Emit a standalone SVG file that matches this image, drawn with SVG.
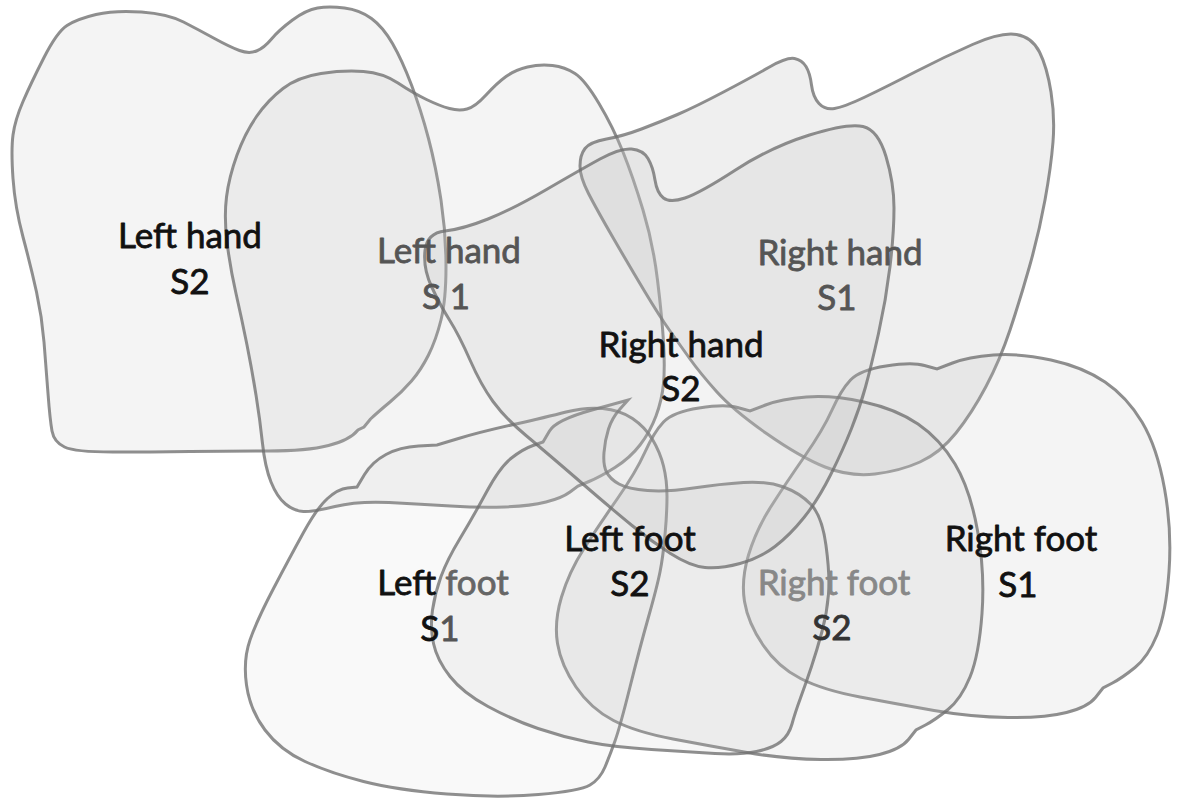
<svg xmlns="http://www.w3.org/2000/svg" width="1182" height="802" viewBox="0 0 1182 802">
<style>
.blob{stroke:#6f6f6f;stroke-opacity:0.78;stroke-width:3;fill:#c4c4c4}
.lbl{font-family:Lato,"Open Sans","Liberation Sans",sans-serif;font-size:35px;text-anchor:middle;stroke-width:0.8;stroke-linejoin:round}
.dark{fill:#111;stroke:#111}
.mid{fill:#555;stroke:#555}
.soft{fill:#666;stroke:#666}
.pale{fill:#888;stroke:#888}
.deep{fill:#333;stroke:#333}
</style>
<rect width="1182" height="802" fill="#ffffff"/>
<g id="left-hand-s2">
<path class="blob" fill-opacity="0.19" d="M44,57.5 Q57,32 67,25.5 Q77,19 96,14.5 Q115,10 141.5,12 Q168,14 183.5,22 Q199,30 214.5,38.5 Q230,47 239.5,50.5 Q249,54 256.5,51 Q264,48 271.5,39 Q279,30 292.5,20 Q306,10 317.5,8 Q329,6 344.5,8 Q360,10 371.5,18.5 Q383,27 392.5,43.5 Q402,60 411.5,85 Q421,110 428.5,138.5 Q436,167 441,200 Q446,233 446,266.5 Q446,300 441,320 Q436,340 428.5,355 Q421,370 411.5,381 Q402,392 390,402 Q378,412 370.5,419 L364,427 L358,430 Q350,440 328.5,445.5 Q307,451 268.5,451 Q230,451 190,451.5 Q150,452 112.5,452 Q75,452 64.5,447 Q54,442 52,431 Q50,420 48,393.5 Q46,367 44,342 Q42,317 36.5,292 Q31,267 23,237 Q15,207 13,178.5 Q11,150 13,135 Q15,120 23,101.5 Q31,83 44,57.5 Z"/>
</g>
<g id="left-hand-s1">
<path class="blob" fill-opacity="0.19" d="M256.5,116.5 Q268,100 283,88.5 Q298,77 321,73.5 Q344,70 363.5,71.5 Q383,73 398,83 Q413,93 426.5,99.5 Q440,106 449.5,108.5 Q459,111 467,109 Q475,107 486,95 Q497,83 506,76.5 Q515,70 527.5,67 Q540,64 552.5,65.5 Q565,67 575,73.5 Q585,80 599,103.5 Q613,127 623,152 Q633,177 643,210 Q653,243 657.5,280 Q662,317 663.5,342 Q665,367 663.5,383.5 Q662,400 656,416 Q650,432 640,445 Q630,458 615,467.5 Q600,477 589,481.5 L578,486 L570,492 Q562,498 546,502 Q530,506 505,507 Q480,508 450.5,506 Q421,504 389,502.5 Q357,501 335,506.5 Q313,512 303.5,511.5 Q294,511 285.5,504 Q277,497 271,482 Q265,467 262.5,443.5 Q260,420 256,395 Q252,370 247,345 Q242,320 236,293.5 Q230,267 227,242 Q224,217 226.5,197 Q229,177 237,155 Q245,133 256.5,116.5 Z"/>
</g>
<g id="right-hand-s1">
<path class="blob" fill-opacity="0.27" d="M585,148.5 Q590,142 606.5,139 Q623,136 641.5,129 Q660,122 677.5,114.5 Q695,107 723.5,92 Q752,77 769.5,67 Q787,57 794.5,58.5 Q802,60 806,66.5 Q810,73 811.5,85 Q813,97 819,103.5 Q825,110 834.5,108.5 Q844,107 865,97 Q886,87 915,72 Q944,57 972.5,44.5 Q1001,32 1016.5,34.5 Q1032,37 1039.5,52 Q1047,67 1051,92 Q1055,117 1053,142 Q1051,167 1045,200 Q1039,233 1029.5,266.5 Q1020,300 1010,330 Q1000,360 986,386.5 Q972,413 956,433 Q940,453 920,462 Q900,471 875,474 Q850,477 825,467 Q800,457 766.5,433.5 Q733,410 716.5,391.5 Q700,373 690,359 Q680,345 670,331 Q660,317 645,292 Q630,267 613.5,238.5 Q597,210 588.5,193.5 Q580,177 580,166 Q580,155 585,148.5 Z"/>
</g>
<g id="right-foot-s1">
<path class="blob" fill-opacity="0.19" d="M993.5,355 Q1019,353 1051,360 Q1083,367 1105,382 Q1127,397 1142,422 Q1157,447 1164.5,488.5 Q1172,530 1169,571.5 Q1166,613 1157,635 Q1148,657 1135,667.5 Q1122,678 1112.5,683 L1103,688 L1095.5,697.5 Q1088,707 1066.5,712.5 Q1045,718 1008,717.5 Q971,717 934,710.5 Q897,704 860,697 Q823,690 800.5,678.5 Q778,667 763,645 Q748,623 744.5,601.5 Q741,580 748.5,555 Q756,530 771,506.5 Q786,483 804.5,456.5 Q823,430 832,410 Q841,390 850.5,380 Q860,370 886,366 Q912,362 924.5,365.5 L937,369 L952.5,363 Q968,357 993.5,355 Z"/>
</g>
<g id="right-foot-s2">
<path class="blob" fill-opacity="0.19" transform="translate(-187,42)" d="M993.5,355 Q1019,353 1051,360 Q1083,367 1105,382 Q1127,397 1142,422 Q1157,447 1164.5,488.5 Q1172,530 1169,571.5 Q1166,613 1157,635 Q1148,657 1135,667.5 Q1122,678 1112.5,683 L1103,688 L1095.5,697.5 Q1088,707 1066.5,712.5 Q1045,718 1008,717.5 Q971,717 934,710.5 Q897,704 860,697 Q823,690 800.5,678.5 Q778,667 763,645 Q748,623 744.5,601.5 Q741,580 748.5,555 Q756,530 771,506.5 Q786,483 804.5,456.5 Q823,430 832,410 Q841,390 850.5,380 Q860,370 886,366 Q912,362 924.5,365.5 L937,369 L952.5,363 Q968,357 993.5,355 Z"/>
</g>
<g id="left-foot-s1">
<path class="blob" fill-opacity="0.1" d="M273.5,588.5 Q290,557 303.5,532.5 Q317,508 327.5,498.5 Q338,489 347.5,488 L357,487 L364.5,474.5 Q372,462 386,454.5 Q400,447 418.5,446 L437,445 L458.5,438.5 Q480,432 513.5,424.5 Q547,417 566,412 Q585,407 602.5,408.5 Q620,410 632.5,418.5 Q645,427 652.5,439.5 Q660,452 663.5,466 Q667,480 667,496.5 Q667,513 665,535 Q663,557 660,572 Q657,587 648.5,617 Q640,647 630,687 Q620,727 615,741 Q610,755 605,767 Q600,779 590,785 Q580,791 538.5,794.5 Q497,798 447,794 Q397,790 363.5,781.5 Q330,773 305,761.5 Q280,750 265,730 Q250,710 246.5,685 Q243,660 250,640 Q257,620 273.5,588.5 Z"/>
</g>
<g id="left-foot-s2">
<path class="blob" fill-opacity="0.15" d="M543,442 L549.5,431 Q556,420 592,410 L628,400 L620,409 Q612,418 608.5,429 Q605,440 604,452.5 Q603,465 606.5,472 Q610,479 619,484 Q628,489 647.5,490.5 Q667,492 693.5,488 Q720,484 743.5,482.5 Q767,481 783.5,487 Q800,493 811,504.5 Q822,516 826,545.5 Q830,575 828.5,594 Q827,613 822,631.5 Q817,650 811.5,666.5 Q806,683 800.5,698 Q795,713 792,724 Q789,735 781,741.5 Q773,748 756.5,751.5 Q740,755 715,753.5 Q690,752 651.5,749.5 Q613,747 588,742 Q563,737 538,728.5 Q513,720 488,706.5 Q463,693 450,676.5 Q437,660 433.5,643.5 Q430,627 432.5,610 Q435,593 441,576.5 Q447,560 460,538.5 Q473,517 486.5,492 Q500,467 511.5,458 Q523,449 533,445.5 Z"/>
</g>
<g id="right-hand-s2">
<path class="blob" fill-opacity="0.2" d="M425,250.5 Q427,233 445,231 Q463,229 488,219 Q513,209 546.5,189.5 Q580,170 600,159 Q620,148 631.5,149 Q643,150 648,158.5 Q653,167 655,180 Q657,193 663.5,198 Q670,203 685,198 Q700,193 735.5,170 Q771,147 809.5,135 Q848,123 863,126.5 Q878,130 886,156.5 Q894,183 894,208 Q894,233 890,266.5 Q886,300 878.5,333.5 Q871,367 865.5,387 Q860,407 851.5,428.5 Q843,450 830.5,475 Q818,500 804,517.5 Q790,535 775,546.5 Q760,558 740,563.5 Q720,569 705,567.5 Q690,566 670.5,553.5 Q651,541 632,525.5 Q613,510 580,481.5 Q547,453 526,435.5 Q505,418 493,401.5 Q481,385 470,360 Q459,335 449.5,320 Q440,305 431.5,286.5 Q423,268 425,250.5 Z"/>
</g>
<g id="labels">
<text class="lbl dark" x="190" y="248">Left hand</text>
<text class="lbl dark" x="190" y="294">S2</text>
<text class="lbl mid" x="449" y="263">Left hand</text>
<text class="lbl mid" x="446" y="309">S 1</text>
<text class="lbl mid" x="840" y="265">Right hand</text>
<text class="lbl mid" x="837" y="310">S1</text>
<text class="lbl dark" x="681" y="357">Right hand</text>
<text class="lbl dark" x="681" y="401">S2</text>
<text class="lbl dark" x="630" y="551">Left foot</text>
<text class="lbl dark" x="630" y="596">S2</text>
<text class="lbl" x="443" y="595"><tspan class="dark">Left</tspan><tspan class="soft"> foot</tspan></text>
<text class="lbl" x="440" y="641"><tspan class="dark">S</tspan><tspan class="mid">1</tspan></text>
<text class="lbl pale" x="834" y="595">Right foot</text>
<text class="lbl deep" x="832" y="640">S2</text>
<text class="lbl dark" x="1021" y="551">Right foot</text>
<text class="lbl dark" x="1018" y="597">S1</text>
</g>
</svg>
